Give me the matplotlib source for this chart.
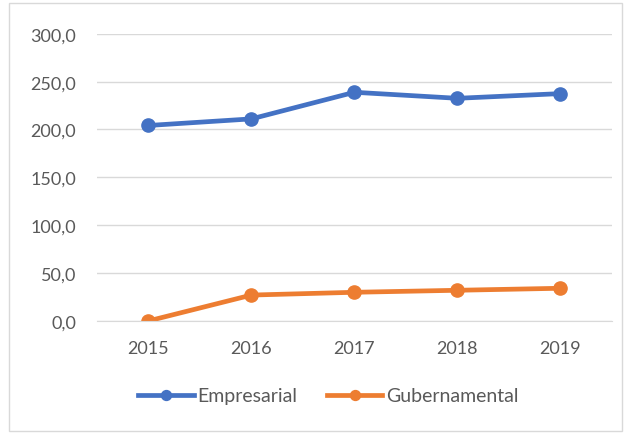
import matplotlib
matplotlib.use("Agg")
import matplotlib.pyplot as plt
from matplotlib.ticker import FuncFormatter, MultipleLocator
from matplotlib.patches import Rectangle

years = ["2015", "2016", "2017", "2018", "2019"]
empresarial = [204.2, 211.1, 238.9, 232.6, 237.5]
gubernamental = [0.0, 27.0, 29.9, 32.0, 34.1]

plt.rcParams['font.family'] = ['Lato', 'DejaVu Sans']

fig = plt.figure(figsize=(6.3, 4.35), dpi=100)
ax = fig.add_axes([0.154, 0.260, 0.817, 0.660])

x = range(len(years))
ax.plot(x, empresarial, '-o', color='#4472C4', lw=3.4, ms=9.5, label='Empresarial')
ax.plot(x, gubernamental, '-o', color='#ED7D31', lw=3.4, ms=9.5, label='Gubernamental')

ax.set_xlim(-0.5, len(years) - 0.5)
ax.set_ylim(0, 300)
ax.yaxis.set_major_locator(MultipleLocator(50))
ax.yaxis.set_major_formatter(FuncFormatter(lambda v, p: f"{v:.1f}".replace('.', ',')))
ax.set_xticks(list(x))
ax.set_xticklabels(years)

ax.grid(axis='y', color='#D9D9D9', lw=1)
ax.set_axisbelow(True)
for s in ['top', 'right', 'left']:
    ax.spines[s].set_visible(False)
ax.spines['bottom'].set_color('#D9D9D9')
ax.tick_params(length=0, labelsize=13, colors='#595959')
ax.tick_params(axis='x', pad=14)
ax.tick_params(axis='y', pad=15)

leg = fig.legend(loc='center', bbox_to_anchor=(328.5 / 630, 1 - 397 / 435), ncol=2,
                 frameon=False, fontsize=14, handlelength=2.85, columnspacing=1.5,
                 handletextpad=0.2, markerscale=0.75)
for t in leg.get_texts():
    t.set_color('#595959')

fig.patches.append(Rectangle((9 / 630, 3 / 435), 613 / 630, 428 / 435,
                             transform=fig.transFigure, fill=False,
                             edgecolor='#D9D9D9', lw=1))

fig.savefig("out.png", dpi=100)
